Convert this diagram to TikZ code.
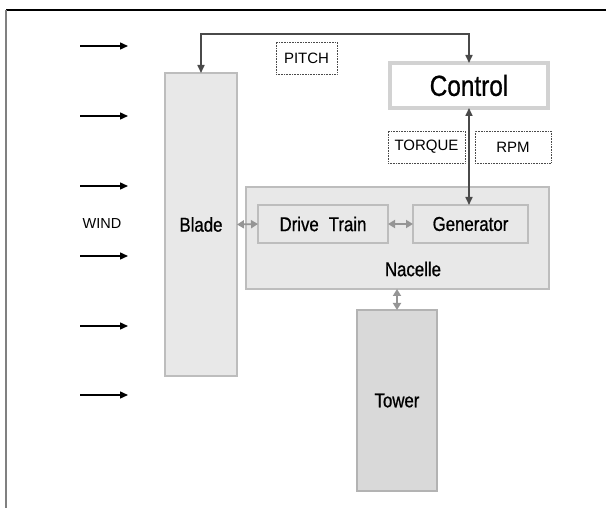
\documentclass[tikz,border=0pt]{standalone}
\usepackage{fontspec}
\setmainfont{Liberation Sans}
\newfontfamily\narrowfont[FakeStretch=0.84,FakeBold=0.8]{Liberation Sans}
\usetikzlibrary{arrows.meta,shadows}
\definecolor{boxfill}{HTML}{E8E8E8}
\definecolor{boxline}{HTML}{BDBDBD}
\definecolor{towerfill}{HTML}{D9D9D9}
\definecolor{towerline}{HTML}{B3B3B3}
\definecolor{darkline}{HTML}{4A4A4A}
\definecolor{softarrow}{HTML}{959595}
\definecolor{ctrlline}{HTML}{D2D2D2}
\tikzset{
  blockbox/.style={draw=boxline, fill=boxfill, line width=2pt, inner sep=0pt, outer sep=0pt},
  bigtext/.style={font=\narrowfont\fontsize{20}{22}\selectfont},
  smalltag/.style={draw=darkline, densely dotted, line width=0.6pt, inner sep=0pt, outer sep=0pt,
     minimum height=32pt, font=\fontsize{15}{17}\selectfont},
  darkarrow/.style={draw=darkline, line width=1.6pt, {Triangle[length=8pt,width=7pt]}-{Triangle[length=8pt,width=7pt]}},
  softdbl/.style={draw=softarrow, line width=1.8pt, {Triangle[length=7pt,width=8pt]}-{Triangle[length=7pt,width=8pt]}},
  windarrow/.style={draw=black, line width=1.4pt, -{Triangle[length=8pt,width=7pt]}},
}
\begin{document}
\begin{tikzpicture}[x=1pt,y=-1pt]
\useasboundingbox (0,0) rectangle (606,508);
% frame
\coordinate (fa) at (6,10);
\coordinate (fb) at (606,10);
\coordinate (fc) at (6,508);
\draw[black, line width=1.2pt] (fa) -- (fb);
\draw[gray, line width=2pt] (fa) -- (fc);

% blocks
\node[blockbox, minimum width=72pt, minimum height=303pt, bigtext] (blade) at (201,224.5) {Blade};
\node[blockbox, minimum width=303pt, minimum height=102pt] (nacelle) at (397.5,238) {};
\node[bigtext] (nacellelabel) at (413,269) {Nacelle};
\node[blockbox, minimum width=130pt, minimum height=38pt, bigtext] (drive) at (323,224) {Drive\hspace{0.5em}Train};
\node[blockbox, minimum width=115pt, minimum height=38pt, bigtext] (gen) at (470.5,224) {Generator};
\node[draw=towerline, fill=towerfill, line width=2pt, inner sep=0pt, outer sep=0pt,
      minimum width=80pt, minimum height=181pt, bigtext] (tower) at (397,400.5) {Tower};
\node[draw=ctrlline, fill=white, line width=4pt, inner sep=0pt, outer sep=0pt,
      minimum width=158pt, minimum height=45pt,
      drop shadow={shadow xshift=1pt, shadow yshift=-2pt, fill=black!25},
      font=\narrowfont\fontsize{29}{31}\selectfont] (control) at (469,85.5) {Control};

% tags
\node[smalltag, minimum width=61pt] (pitch) at (306.5,58) {PITCH};
\node[smalltag, minimum width=77pt] (torque) at (426.5,147) {TORQUE};
\node[smalltag, minimum width=76pt] (rpm) at (513,147) {RPM};
\node[font=\fontsize{14.5}{16}\selectfont] (wind) at (102,224) {WIND};

% connectors
\coordinate (pitchleft) at (201,34);
\draw[darkarrow] (blade.north) -- (pitchleft) -| (control.north);
\draw[darkarrow] (control.south) -- (control.south |- gen.north);
\draw[softdbl] (blade.east) -- (drive.west);
\draw[softdbl] (drive.east) -- (gen.west);
\draw[softdbl] (nacelle.south -| tower.north) -- (tower.north);

% wind arrows
\foreach \i/\y in {1/46,2/116,3/186,4/256,5/326,6/395}{
  \coordinate (ws\i) at (80,\y);
  \coordinate (we\i) at (128,\y);
  \draw[windarrow] (ws\i) -- (we\i);
}
\end{tikzpicture}
\end{document}
